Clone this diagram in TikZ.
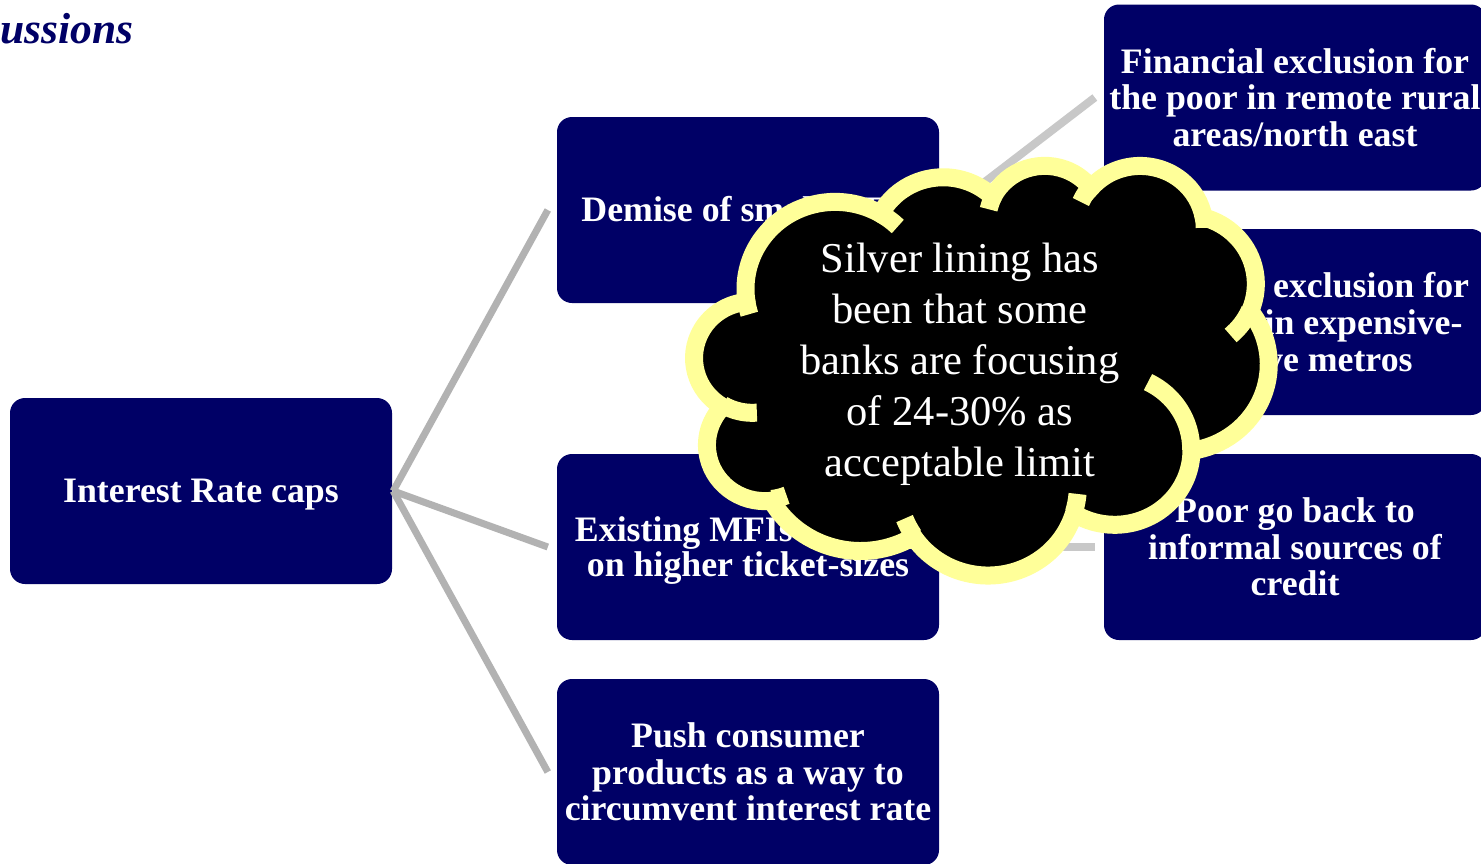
\documentclass[tikz,border=0pt]{standalone}
\usepackage{fontspec}
\setmainfont{Liberation Serif}
\definecolor{navyc}{RGB}{0,0,102}
\definecolor{linkl}{RGB}{178,178,178}
\definecolor{linkr}{RGB}{200,200,200}
\definecolor{cloudy}{RGB}{255,255,153}
\begin{document}
\begin{tikzpicture}[x=1pt,y=-1pt,
  box/.style={fill=navyc, rounded corners=15pt, minimum width=382pt, minimum height=186pt,
    inner sep=0pt, align=center, text=white, font=\fontsize{35.8}{36.6}\selectfont\bfseries},
  oneline/.style={text height=22pt, text depth=0pt},
  linkL/.style={draw=linkl, line width=7pt},
  linkR/.style={draw=linkr, line width=8pt},
  cloudline/.style={draw=cloudy, line width=18pt},
  cld/.style n args={4}{x radius=#1, y radius=#2,
    start angle={atan2((#1)*sin(#3),(#2)*cos(#3))},
    delta angle={atan2((#1)*sin((#3)+(#4)),(#2)*cos((#3)+(#4)))-atan2((#1)*sin(#3),(#2)*cos(#3))
      +360*round(((#4)-(atan2((#1)*sin((#3)+(#4)),(#2)*cos((#3)+(#4)))-atan2((#1)*sin(#3),(#2)*cos(#3))))/360)}}
]
\useasboundingbox (0,0) rectangle (1481,863);
\fill[white] (0,0) rectangle (1481,863);
\clip (0,0) rectangle (1481,863);

\node[anchor=base west, inner sep=0pt, text=navyc, font=\fontsize{43.5}{43.5}\selectfont\bfseries\itshape] (title) at (0.5,43) {ussions};

\node[box, oneline] (root) at (201,491) {Interest Rate caps};
\node[box, oneline] (m1) at (748,210) {Demise of small MFIs};
\node[box] (m2) at (748,547) {};
\node[text=white, align=center, inner sep=0pt, font=\fontsize{35.8}{35}\selectfont\bfseries] (m2txt) at (748,550)
  {Existing MFIs focus\hspace{-8pt}ing\\on higher ticket-sizes};
\node[box] (m3) at (748,772) {Push consumer\\products as a way to\\circumvent interest rate};
\node[box] (r1) at (1295,97.5) {Financial exclusion for\\the poor in remote rural\\areas/north east};
\node[box] (r2) at (1295,322) {Financial exclusion for\\the poor in expensive-\\\hspace*{26pt}to-live metros};
\node[box] (r3) at (1295,547) {Poor go back to\\informal sources of\\credit};

\draw[linkL] ([xshift=1pt]root.east) -- ([xshift=-9pt]m1.west);
\draw[linkL] ([xshift=1pt]root.east) -- ([xshift=-9pt]m2.west);
\draw[linkL] ([xshift=1pt]root.east) -- ([xshift=-9pt]m3.west);
\draw[linkR] ([xshift=9pt]m1.east) -- ([xshift=-9pt]r1.west);
\draw[linkR] ([xshift=9pt]m1.east) -- ([xshift=-9pt]r2.west);
\draw[linkR] ([xshift=9pt]m2.east) -- ([xshift=-9pt]r3.west);

\begin{scope}[shift={(694.5,164.5)}, xscale=1.3287, yscale=0.948]
\path[fill=black, cloudline] (39.00,143.70)
  arc[cld={67.53}{91.90}{-190.4875}{123.7805}]
  arc[cld={53.33}{72.67}{-144.1024}{89.9452}]
  arc[cld={43.65}{59.45}{-145.8079}{99.7230}]
  arc[cld={48.57}{65.95}{-130.9861}{117.2417}]
  arc[cld={53.33}{72.73}{-78.7089}{109.0269}]
  arc[cld={67.75}{92.20}{-46.2673}{130.2690}]
  arc[cld={57.85}{78.67}{0.6250}{114.0333}]
  arc[cld={67.52}{92.15}{22.4516}{115.1726}]
  arc[cld={77.20}{105.43}{66.2426}{75.7110}]
  arc[cld={43.60}{59.18}{-274.9421}{146.7356}]
  arc[cld={43.45}{59.45}{-246.8285}{152.5189}]
  -- cycle;
\draw[cloudline] (46.93,261.77) arc[cld={43.45}{59.45}{86.742}{26.430}];
\draw[cloudline] (69.28,348.99) arc[cld={43.60}{59.18}{73.611}{11.447}];
\draw[cloudline] (164.78,390.90) arc[cld={67.52}{92.15}{137.624}{14.081}];
\draw[cloudline] (288.27,347.51) arc[cld={67.52}{92.15}{6.453}{15.998}];
\draw[cloudline] (341.29,229.54) arc[cld={57.85}{78.67}{-70.292}{70.917}];
\draw[cloudline] (417.98,153.54) arc[cld={53.33}{72.73}{30.318}{27.752}];
\draw[cloudline] (383.24,54.26) arc[cld={48.57}{65.95}{-13.744}{14.859}];
\draw[cloudline] (290.78,39.52) arc[cld={48.57}{65.95}{-149.181}{18.196}];
\draw[cloudline] (221.41,47.20) arc[cld={43.65}{59.45}{-163.494}{17.686}];
\draw[cloudline] (140.00,51.92) arc[cld={67.53}{91.90}{-66.707}{12.319}];
\draw[cloudline] (41.27,157.89) arc[cld={67.53}{91.90}{157.654}{11.858}];
\end{scope}

\node[text=white, align=center, inner sep=0pt, font=\fontsize{42.5}{51}\selectfont] (cloudtxt) at (960,364)
  {Silver lining has\\been that some\\banks are focusing\\of 24-30\% as\\acceptable limit};
\end{tikzpicture}
\end{document}
